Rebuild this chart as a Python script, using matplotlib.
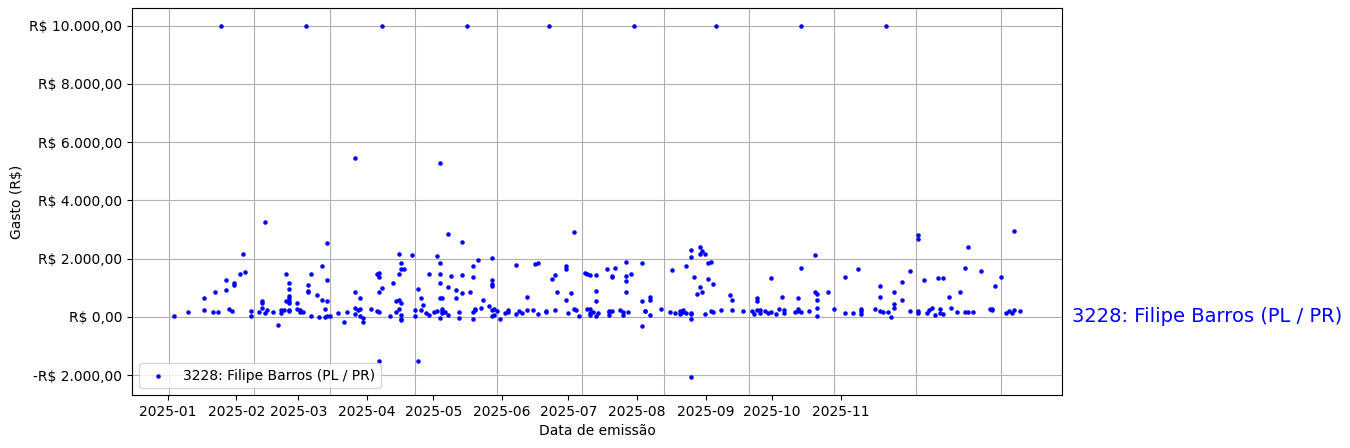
import matplotlib
matplotlib.use("Agg")
import matplotlib.pyplot as plt
import matplotlib.dates as mdates
import matplotlib.ticker as mticker
import numpy as np
import datetime as dt

series_label = "3228: Filipe Barros (PL / PR)"
x_label = "Data de emissão"
y_label = "Gasto (R$)"

dates = [
    "2025-01-03", "2025-01-08", "2025-01-14", "2025-01-14", "2025-01-17", "2025-01-18", "2025-01-19", "2025-01-20",
    "2025-01-22", "2025-01-22", "2025-01-23", "2025-01-24", "2025-01-25", "2025-01-25", "2025-01-27", "2025-01-28",
    "2025-01-29", "2025-01-31", "2025-01-31", "2025-02-03",
    "2025-02-05", "2025-02-04", "2025-02-04", "2025-02-04", "2025-02-05", "2025-02-06", "2025-02-08", "2025-02-10",
    "2025-02-11", "2025-02-11", "2025-02-12", "2025-02-13", "2025-02-13", "2025-02-14", "2025-02-14", "2025-02-14",
    "2025-02-14", "2025-02-14", "2025-02-14", "2025-02-14", "2025-02-14", "2025-02-17", "2025-02-17", "2025-02-18",
    "2025-02-18", "2025-02-19", "2025-02-20", "2025-02-21", "2025-02-21", "2025-02-21", "2025-02-22", "2025-02-22",
    "2025-02-24", "2025-02-25", "2025-02-26", "2025-02-26", "2025-02-27", "2025-02-27", "2025-02-28", "2025-02-28",
    "2025-02-28", "2025-02-28", "2025-03-01", "2025-03-04", "2025-03-06", "2025-03-07", "2025-03-10", "2025-03-10",
    "2025-03-10", "2025-03-10", "2025-03-11", "2025-03-12", "2025-03-12", "2025-03-12", "2025-03-13", "2025-03-13",
    "2025-03-16", "2025-03-18", "2025-03-18",
    "2025-03-19", "2025-03-19", "2025-03-19", "2025-03-20", "2025-03-19", "2025-03-19", "2025-03-20", "2025-03-23",
    "2025-03-24", "2025-03-25", "2025-03-26", "2025-03-26", "2025-03-25", "2025-03-26", "2025-03-26", "2025-03-27",
    "2025-03-27", "2025-03-27", "2025-03-27", "2025-03-27", "2025-03-27", "2025-03-28", "2025-03-31", "2025-04-01",
    "2025-04-01", "2025-04-02", "2025-04-02", "2025-04-03", "2025-04-03", "2025-04-04", "2025-04-05", "2025-04-06",
    "2025-04-06", "2025-04-08", "2025-04-09", "2025-04-09", "2025-04-10", "2025-04-10", "2025-04-10", "2025-04-10",
    "2025-04-10", "2025-04-11", "2025-04-11", "2025-04-11", "2025-04-11", "2025-04-10", "2025-04-12", "2025-04-13",
    "2025-04-13", "2025-04-13", "2025-04-14", "2025-04-16", "2025-04-16", "2025-04-17", "2025-04-17", "2025-04-18",
    "2025-04-18", "2025-04-18", "2025-04-21", "2025-04-20", "2025-04-22", "2025-04-22", "2025-04-24", "2025-04-22",
    "2025-04-22", "2025-04-23", "2025-04-23", "2025-04-25", "2025-04-26", "2025-04-28", "2025-04-29", "2025-04-29",
    "2025-04-29", "2025-04-29", "2025-04-29", "2025-04-29", "2025-04-30", "2025-04-30", "2025-05-01",
    "2025-05-02", "2025-05-04", "2025-05-05", "2025-05-05", "2025-05-08", "2025-05-08", "2025-05-09", "2025-05-10",
    "2025-05-12", "2025-05-12", "2025-05-14", "2025-05-15", "2025-05-16", "2025-05-16", "2025-05-19", "2025-05-19",
    "2025-05-20", "2025-05-22", "2025-05-21", "2025-05-22", "2025-05-23", "2025-05-26", "2025-05-26", "2025-05-26",
    "2025-05-27", "2025-05-28", "2025-05-29", "2025-05-29", "2025-05-30", "2025-05-31", "2025-06-02", "2025-06-03",
    "2025-06-04", "2025-06-06", "2025-06-03", "2025-06-04", "2025-06-04", "2025-06-04", "2025-06-05", "2025-06-06",
    "2025-06-06", "2025-06-06", "2025-06-07", "2025-06-10", "2025-06-11", "2025-06-11", "2025-06-11", "2025-06-12",
    "2025-06-13", "2025-06-12", "2025-06-12",
    "2025-06-15", "2025-06-16", "2025-06-16", "2025-06-18", "2025-06-17", "2025-06-17", "2025-06-17", "2025-06-17",
    "2025-06-19", "2025-06-20", "2025-06-23", "2025-06-23", "2025-06-23", "2025-06-24", "2025-06-24", "2025-06-26",
    "2025-06-26", "2025-06-26", "2025-06-30", "2025-07-03", "2025-07-04", "2025-07-05", "2025-07-07", "2025-07-07",
    "2025-07-08", "2025-07-08", "2025-07-09", "2025-07-09", "2025-07-11", "2025-07-11", "2025-07-11", "2025-07-11",
    "2025-07-11", "2025-07-11", "2025-07-12", "2025-07-13", "2025-07-14", "2025-07-14", "2025-07-14", "2025-07-15",
    "2025-07-15", "2025-07-16", "2025-07-17", "2025-07-18", "2025-07-17", "2025-07-19", "2025-07-16", "2025-07-18",
    "2025-07-19", "2025-07-20", "2025-07-22", "2025-07-25", "2025-07-26", "2025-07-26",
    "2025-07-30", "2025-08-02", "2025-08-03", "2025-08-04", "2025-08-04", "2025-08-04", "2025-08-05", "2025-08-05",
    "2025-08-07", "2025-08-08", "2025-08-09", "2025-08-09", "2025-08-11", "2025-08-12", "2025-08-13", "2025-08-14",
    "2025-08-14", "2025-08-18", "2025-08-19", "2025-08-19", "2025-08-19", "2025-08-20", "2025-08-20", "2025-08-20",
    "2025-08-23", "2025-08-25", "2025-08-25", "2025-08-26", "2025-08-26", "2025-08-26", "2025-08-26", "2025-08-30",
    "2025-09-01", "2025-09-05", "2025-09-05", "2025-09-08", "2025-09-10",
    "2025-09-11", "2025-09-11", "2025-09-11", "2025-09-16", "2025-09-18", "2025-09-18", "2025-09-18", "2025-09-19",
    "2025-09-20", "2025-09-21", "2025-09-22", "2025-09-23", "2025-09-23", "2025-09-23", "2025-09-26", "2025-09-26",
    "2025-09-29", "2025-09-29", "2025-10-02", "2025-10-02", "2025-10-02", "2025-10-02", "2025-10-04", "2025-10-05",
    "2025-10-06", "2025-10-07", "2025-10-08", "2025-10-09", "2025-10-11", "2025-10-10", "2025-10-10", "2025-10-11",
    "2025-10-13", "2025-10-14", "2025-10-16", "2025-10-17", "2025-10-19", "2025-10-19", "2025-10-20", "2025-10-20",
    "2025-10-22",
    "2025-10-25", "2025-10-28", "2025-10-29", "2025-10-29", "2025-10-30", "2025-11-01", "2025-11-03", "2025-11-04",
    "2025-11-05", "2025-11-06", "2025-11-06", "2025-11-08",
]

values = [
    20, 160, 640, 230, 160, 850, 160, 10000,
    1260, 920, 280, 195, 1150, 1090, 1470, 2160,
    1540, 195, 35, 160,
    3265, 550, 480, 300, 125, 230, 160, -290,
    220, 125, 230, 1470, 550, 540, 195, 965,
    1160, 700, 630, 470, 230, 470, 265, 240,
    160, 160, 10000, 1090, 875, 840, 1470, 25,
    745, 10, 1750, 575, 10, 265, 2540, 1265,
    540, 35, 35, 125, -185, 160, 310, 850,
    90, 5440, 230, 265, 645, 25, -185, -45,
    265, 1470, 195,
    1505, 1370, 850, 990, 160, -1515, 10000, 25,
    1160, 540, 575, 265, 160, 2160, 1470, 1645,
    1850, 470, 55, -80, -115, 1645, 2125, 35,
    230, 955, -1515, 230, 645, 400, 125, 70,
    1460, 160, 195, 2090, 1470, 1160, 1850, -45,
    645, 645, 265, 125, 185, 5265, 160, 55,
    2830, 1025, 1400, 920, 645, 160, -45, 1435,
    2575, 815, 850, 10000, 1735, 1370, 1955, 160,
    -80, 230, 265, 300, 575, 370, 230, 1265,
    1125, 1055, 2025, 25, 265, 55, 195,
    -80, 125, 230, 160, 90, 1780, 195, 125,
    230, 680, 230, 1815, 1850, 90, 195, 160,
    10000, 230, 1300, 1435, 850, 575, 1745, 1645,
    125, 815, 2920, 265, 230, 25, 1505, 1470,
    1435, 1435, 265, 265, 55, 125, 160, 25,
    885, 540, 125, 1645, 160, 55, 195, 195,
    1680, 1400, 1370,
    230, 55, 160, 160, 1885, 1400, 1230, 850,
    1460, 10000, 1850, -320, 540, 195, 190, 55,
    575, 680, 265, 160, 1610, 125, 195, 90,
    230, 160, 125, 1745, 125, 90, -80, 2300,
    2055, -2080, 1370, 780, 2400, 2160, 1025, 850,
    2265, 2160, 1850, 1885, 1300, 1125, 90, 195,
    160, 10000, 230, 745, 575, 230,
    195, 195, 90, 645, 540, 230, 125, 230,
    195, 125, 1335, 160, 90, 265, 680, 125,
    230, 160, 645, 195, 265, 160, 1680, 10000,
    195, 2125, 850, 780, 575, 300, 25, 850,
    265, 1370, 125, 125, 1645,
    265, 195, 90, 265, 1055, 680, 195, 160,
    10000, 160, -10, 850, 435, 300, 1195, 575,
    1575, 195, 2815, 2680, 195, 125, 1265, 125,
    230, 300, 55, 1335, 1335, 265, 125, 90,
    680, 300, 160, 850, 1680, 160, 2400, 160,
    160,
    1575, 265, 265, 230, 1055, 1370, 125, 195,
    125, 230, 2955, 195,
]

tick_labels = ["2025-01", "2025-02", "2025-03", "2025-04", "2025-05", "2025-06",
               "2025-07", "2025-08", "2025-09", "2025-10", "2025-11"]

x = np.array([np.datetime64(d) for d in dates]).astype("datetime64[D]").astype(object)
y = np.array(values, dtype=float)

fig = plt.figure(figsize=(13.5, 4.48), dpi=100)
ax = fig.add_axes([132 / 1350, 53 / 448, 930 / 1350, 387 / 448])

ax.scatter(x, y, s=5, color="blue", label=series_label, zorder=3)

# gridlines at month starts
ax.xaxis.set_major_locator(mdates.MonthLocator())
ax.xaxis.set_major_formatter(mticker.NullFormatter())
ax.tick_params(axis="x", which="major", length=0)
ax.grid(True, which="major", color="#b0b0b0", linewidth=0.8)
ax.set_axisbelow(True)

# month labels placed as in the reference (compressed spacing)
start = mdates.date2num(dt.datetime(2025, 1, 1))
label_scale = 0.809
label_pos = []
for lab in tick_labels:
    yy, mm = map(int, lab.split("-"))
    off = mdates.date2num(dt.datetime(yy, mm, 1)) - start
    label_pos.append(start - 0.4 + label_scale * off)
ax.xaxis.set_minor_locator(mticker.FixedLocator(label_pos))
ax.xaxis.set_minor_formatter(mticker.FixedFormatter(tick_labels))
ax.tick_params(axis="x", which="minor", length=3.5, width=0.8, pad=3.5, labelsize=10)

ax.set_yticks([-2000, 0, 2000, 4000, 6000, 8000, 10000])


def brl(v, pos=None):
    s = f"{abs(v):,.2f}".replace(",", "X").replace(".", ",").replace("X", ".")
    return ("-R$ " if v < 0 else "R$ ") + s


ax.yaxis.set_major_formatter(mticker.FuncFormatter(brl))

ax.set_xlabel(x_label)
ax.set_ylabel(y_label)
ax.legend(loc="lower left")

ax.text(1.0107, 0, series_label, color="blue", fontsize=14, ha="left", va="center",
        transform=matplotlib.transforms.blended_transform_factory(ax.transAxes, ax.transData))

fig.savefig("out.png", dpi=100)
